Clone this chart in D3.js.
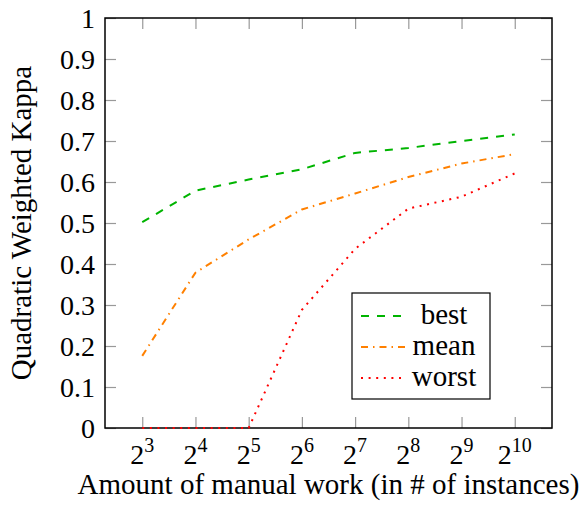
<!DOCTYPE html>
<html>
<head>
<meta charset="utf-8">
<script src="https://cdn.jsdelivr.net/npm/d3@7"></script>
<style>
  body { margin: 0; background: #fff; }
</style>
</head>
<body>
<div id="chart"></div>
<script>
// data
var exponents = [3, 4, 5, 6, 7, 8, 9, 10];
var best  = [0.502, 0.579, 0.606, 0.631, 0.671, 0.683, 0.700, 0.716];
var mean  = [0.176, 0.379, 0.460, 0.533, 0.572, 0.612, 0.645, 0.668];
var worst = [0, 0, 0, 0.288, 0.437, 0.535, 0.564, 0.621];
var yTicks = [0, 0.1, 0.2, 0.3, 0.4, 0.5, 0.6, 0.7, 0.8, 0.9, 1];
var seriesNames = ['best', 'mean', 'worst'];

(function lineChart(){

  var W = 580, H = 508,
      left = 105, right = 552, top = 18, bottom = 428,
      tick = 11,
      serif = 'Liberation Serif';

  var x = d3.scaleLog().base(2)
            .domain([Math.pow(2, 2.3), Math.pow(2, 10.7)])
            .range([left, right]);
  var y = d3.scaleLinear().domain([0, 1]).range([bottom, top]);

  var svg = d3.select('#chart').append('svg')
              .attr('width', W).attr('height', H)
              .attr('font-family', serif);

  var xVals = exponents.map(function(e){ return Math.pow(2, e); });

  // ticks on all four sides, pointing inward
  [d3.axisBottom(x), d3.axisTop(x)].forEach(function(a, i){
    var g = svg.append('g')
      .attr('transform', 'translate(0,' + (i ? top : bottom) + ')')
      .call(a.tickValues(xVals).tickSizeInner(-tick).tickSizeOuter(0)
             .tickFormat(function(){ return ''; }));
    g.select('.domain').remove();
    g.selectAll('.tick line').attr('stroke', '#999').attr('stroke-width', 1.2);
  });

  [d3.axisLeft(y), d3.axisRight(y)].forEach(function(a, i){
    var g = svg.append('g')
      .attr('transform', 'translate(' + (i ? right : left) + ',0)')
      .call(a.tickValues(yTicks).tickSizeInner(-tick).tickSizeOuter(0).tickPadding(10)
             .tickFormat(i ? function(){ return ''; } : function(d){ return String(d); }));
    g.select('.domain').remove();
    g.attr('font-family', serif);
    g.selectAll('.tick line').attr('stroke', '#999').attr('stroke-width', 1.2);
    g.selectAll('.tick text')
      .attr('font-size', 28)
      .attr('fill', '#000')
      .attr('dy', '0.33em');
  });

  // x tick labels 2^n
  var xl = svg.append('g');
  exponents.forEach(function(e){
    var t = xl.append('text')
      .attr('x', x(Math.pow(2, e)))
      .attr('y', 464)
      .attr('text-anchor', 'middle')
      .attr('font-size', 28);
    t.append('tspan').text('2');
    t.append('tspan').attr('dy', -12).attr('font-size', 20).text(e);
  });

  // frame
  svg.append('rect')
     .attr('x', left).attr('y', top)
     .attr('width', right - left).attr('height', bottom - top)
     .attr('fill', 'none').attr('stroke', '#000').attr('stroke-width', 1.5);

  // lines
  var styles = [
    {vals: best,  color: '#00b400', dash: '8,8'},
    {vals: mean,  color: '#ff8000', dash: '7,5,1.5,5'},
    {vals: worst, color: '#ff0000', dash: '2,5.6'}
  ];
  var line = d3.line()
    .x(function(d, i){ return x(xVals[i]); })
    .y(function(d){ return y(d); });

  svg.selectAll('path.series')
     .data(styles)
     .enter()
     .append('path')
     .attr('class', 'series')
     .attr('d', function(s){ return line(s.vals); })
     .attr('fill', 'none')
     .attr('stroke', function(s){ return s.color; })
     .attr('stroke-width', 2)
     .attr('stroke-dasharray', function(s){ return s.dash; });

  // axis labels
  svg.append('text')
     .attr('x', (left + right) / 2).attr('y', 494)
     .attr('text-anchor', 'middle')
     .attr('font-size', 29)
     .text('Amount of manual work (in # of instances)');

  svg.append('text')
     .attr('transform', 'translate(31,' + ((top + bottom) / 2) + ') rotate(-90)')
     .attr('text-anchor', 'middle')
     .attr('font-size', 29)
     .text('Quadratic Weighted Kappa');

  // legend
  var lg = svg.append('g');
  lg.append('rect')
    .attr('x', 352).attr('y', 293)
    .attr('width', 138).attr('height', 106)
    .attr('fill', '#fff').attr('stroke', '#000').attr('stroke-width', 1.2);
  styles.forEach(function(s, i){
    var cy = 316 + i * 31;
    lg.append('line')
      .attr('x1', 361).attr('x2', 406)
      .attr('y1', cy).attr('y2', cy)
      .attr('stroke', s.color).attr('stroke-width', 2)
      .attr('stroke-dasharray', s.dash);
    lg.append('text')
      .attr('x', 444).attr('y', cy + 8)
      .attr('text-anchor', 'middle')
      .attr('font-size', 29)
      .text(seriesNames[i]);
  });

})();
</script>
</body>
</html>
